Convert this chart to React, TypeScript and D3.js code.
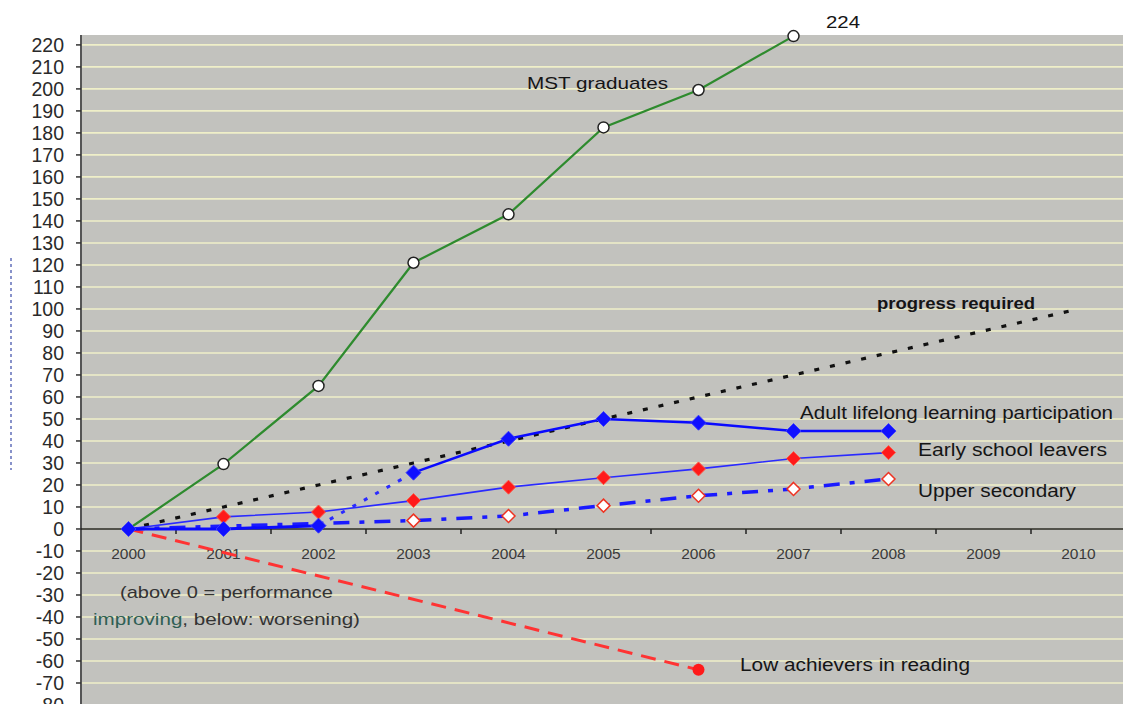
import React from "react";
import * as d3 from "d3";

const years = ["2000", "2001", "2002", "2003", "2004", "2005", "2006", "2007", "2008", "2009", "2010"];
const mstGraduates: (number | null)[] = [0, 29.5, 65, 121, 143, 182.5, 199.5, 224, null, null, null];
const progressRequired: (number | null)[] = [0, 10, 20, 30, 40, 50, 60, 70, 80, 90, 100];
const adultLifelong: (number | null)[] = [0, 0, 1.5, 25.6, 41, 50, 48.3, 44.5, 44.5, null, null];
const earlyLeavers: (number | null)[] = [0, 5.5, 7.7, 12.9, 19, 23.3, 27.3, 32, 34.7, null, null];
const upperSecondary: (number | null)[] = [0, null, null, 3.8, 5.9, 10.6, 15.1, 18.2, 22.7, null, null];
const lowAchievers: (number | null)[] = [0, null, null, null, null, null, -64, null, null, null, null];
const yTicks = d3.range(-80, 221, 10);

const W = 1123;
const H = 704;
const FONT = "'Liberation Sans', Arial, sans-serif";

type Pt = { x: number; y: number };

function Label(props: { x: number; y: number; w: number; size: number; bold?: boolean; children: React.ReactNode }) {
  return (
    <text
      x={props.x}
      y={props.y}
      fontFamily={FONT}
      fontSize={props.size}
      fontWeight={props.bold ? "bold" : "normal"}
      fill="#151515"
      textLength={props.w}
      lengthAdjust="spacingAndGlyphs"
    >
      {props.children}
    </text>
  );
}

export default function App() {
  const x = d3.scaleBand<string>().domain(years).range([81, 1126]).padding(0);
  const cx = (yr: string) => (x(yr) as number) + x.bandwidth() / 2;
  const y = d3.scaleLinear().domain([-80, 224.5]).range([705, 35]);

  const pts = (vals: (number | null)[]): Pt[] =>
    vals
      .map((v, i) => (v === null ? null : { x: cx(years[i]), y: y(v) }))
      .filter((p): p is Pt => p !== null);

  const line = d3
    .line<Pt>()
    .x((d) => d.x)
    .y((d) => d.y);

  const mstPts = pts(mstGraduates);
  const progPts = pts(progressRequired);
  const adultPts = pts(adultLifelong);
  const earlyPts = pts(earlyLeavers);
  const upperPts = pts(upperSecondary);
  const lowPts = pts(lowAchievers);

  // adult series: solid to 2002, dotted 2002-2003, solid after
  const adultA = adultPts.slice(0, 3);
  const adultB = adultPts.slice(2, 4);
  const adultC = adultPts.slice(3);

  const diamond = (p: Pt, r: number) =>
    `M${p.x},${p.y - r} L${p.x + r},${p.y} L${p.x},${p.y + r} L${p.x - r},${p.y} Z`;

  const plotLeft = 81;
  const plotTop = y(224.5);
  const plotBottom = H;

  return (
    <svg width={W} height={H} style={{ position: "absolute", left: 0, top: 0, background: "#fff" }}>
      <defs>
        <clipPath id="plotclip">
          <rect x={plotLeft} y={plotTop - 10} width={W - plotLeft} height={plotBottom - plotTop + 10} />
        </clipPath>
      </defs>
      {/* background */}
      <rect x={plotLeft} y={plotTop} width={W - plotLeft} height={plotBottom - plotTop} fill="#c2c2be" />
      {/* grid */}
      {yTicks.map((t) => (
        <line key={"g" + t} x1={plotLeft} x2={W} y1={y(t)} y2={y(t)} stroke="#efefc8" strokeWidth={1.6} />
      ))}
      {/* faint y title */}
      <line x1={11} x2={11} y1={258} y2={470} stroke="#3a4aa8" strokeWidth={2} strokeDasharray="3,3" opacity={0.6} />
      {/* y axis */}
      <line x1={plotLeft} x2={plotLeft} y1={plotTop} y2={H} stroke="#555" strokeWidth={2} />
      {yTicks.map((t) => (
        <g key={"yt" + t}>
          <line x1={76} x2={plotLeft} y1={y(t)} y2={y(t)} stroke="#333" strokeWidth={1.5} />
          <text x={64} y={y(t)} dy="0.36em" textAnchor="end" fontFamily={FONT} fontSize={19.5} fill="#2a2a2a">
            {t}
          </text>
        </g>
      ))}
      {/* x axis */}
      <line x1={plotLeft} x2={W} y1={y(0)} y2={y(0)} stroke="#222" strokeWidth={1.6} />
      {years.slice(1).map((yr) => (
        <line key={"xt" + yr} x1={x(yr) as number} x2={x(yr) as number} y1={y(0)} y2={y(0) + 5} stroke="#222" strokeWidth={1.5} />
      ))}
      {years.map((yr) => (
        <text key={"xl" + yr} x={cx(yr)} y={y(0) + 30} textAnchor="middle" fontFamily={FONT} fontSize={15.5} fill="#3a3a3a">
          {yr}
        </text>
      ))}

      <g clipPath="url(#plotclip)">
        {/* low achievers */}
        <path d={line(lowPts) as string} fill="none" stroke="#ff3333" strokeWidth={3} strokeDasharray="15,9" />
        {/* progress required */}
        <path d={line(progPts) as string} fill="none" stroke="#111" strokeWidth={3.2} strokeDasharray="5,11" />
        {/* upper secondary */}
        <path d={line(upperPts) as string} fill="none" stroke="#1a1aff" strokeWidth={3.5} strokeDasharray="16,10,5,10" />
        {/* early school leavers */}
        <path d={line(earlyPts) as string} fill="none" stroke="#2a2aff" strokeWidth={1.6} />
        {/* adult lifelong */}
        <path d={line(adultA) as string} fill="none" stroke="#0a0aff" strokeWidth={3} />
        <path d={line(adultB) as string} fill="none" stroke="#2a2aff" strokeWidth={3} strokeDasharray="4,9" />
        <path d={line(adultC) as string} fill="none" stroke="#0a0aff" strokeWidth={2.5} />
        {/* MST */}
        <path d={line(mstPts) as string} fill="none" stroke="#2e8b2e" strokeWidth={2.2} />

        {/* markers */}
        {upperPts.slice(1).map((p, i) => (
          <path key={"um" + i} d={diamond(p, 6.5)} fill="#fff" stroke="#ee3322" strokeWidth={1.5} />
        ))}
        {earlyPts.slice(1).map((p, i) => (
          <path key={"em" + i} d={diamond(p, 7)} fill="#ff1a1a" stroke="#ff5544" strokeWidth={1} />
        ))}
        {adultPts.map((p, i) => (
          <path key={"am" + i} d={diamond(p, 7.5)} fill="#1010ff" stroke="#3a3aff" strokeWidth={1} />
        ))}
        {mstPts.slice(1).map((p, i) => (
          <circle key={"mm" + i} cx={p.x} cy={p.y} r={5.5} fill="#fff" stroke="#222" strokeWidth={1.5} />
        ))}
        {lowPts.slice(1).map((p, i) => (
          <circle key={"lm" + i} cx={p.x} cy={p.y} r={6} fill="#ff1a1a" />
        ))}
      </g>

      {/* annotations */}
      <Label x={826} y={28} w={34} size={17}>224</Label>
      <Label x={527} y={89} w={141} size={17}>MST graduates</Label>
      <Label x={877} y={309} w={158} size={16} bold>progress required</Label>
      <Label x={800} y={419} w={313} size={17.5}>Adult lifelong learning participation</Label>
      <Label x={918} y={456} w={189} size={17.5}>Early school leavers</Label>
      <Label x={918} y={497} w={158} size={17.5}>Upper secondary</Label>
      <Label x={740} y={671} w={230} size={17.5}>Low achievers in reading</Label>
      <text x={120} y={598} fontFamily={FONT} fontSize={17} fill="#333" textLength={213} lengthAdjust="spacingAndGlyphs">
        (above 0 = performance
      </text>
      <text x={93} y={625} fontFamily={FONT} fontSize={17} fill="#333" textLength={267} lengthAdjust="spacingAndGlyphs">
        <tspan fill="#2f5f55">improving</tspan>, below: worsening)
      </text>
    </svg>
  );
}
